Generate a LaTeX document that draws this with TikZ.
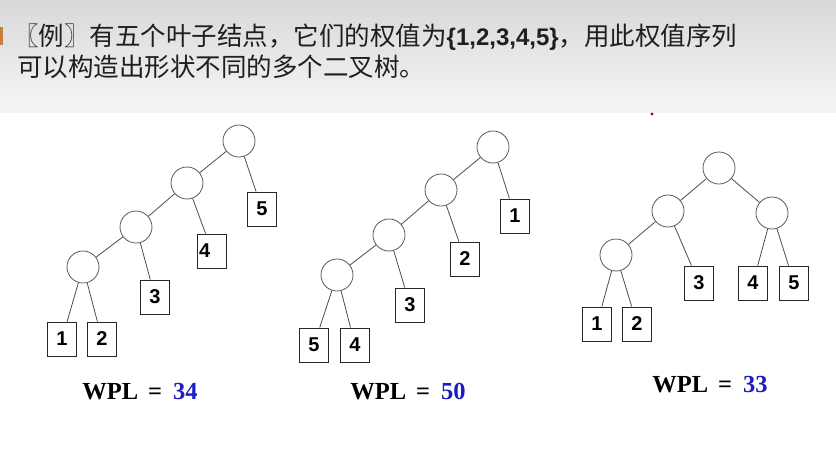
\documentclass[tikz,border=0pt]{standalone}
\usepackage{fontspec}
\setmainfont{Liberation Serif}
\newfontfamily\cjk{Noto Sans CJK SC}
\newfontfamily\digitfont{Liberation Sans}
\definecolor{wplblue}{RGB}{28,28,200}
\definecolor{barbrown}{RGB}{196,128,60}

\begin{document}
\begin{tikzpicture}[
    x=1pt, y=-1pt,
  inner/.style={circle, draw=black!65, line width=0.8pt, minimum size=32pt, inner sep=0pt},
    leaf/.style={rectangle, draw=black!85, line width=1pt, minimum width=29pt, minimum height=34pt, inner sep=0pt, font=\digitfont\bfseries\fontsize{20}{20}\selectfont},
    branch/.style={draw=black!70, line width=0.8pt},
    wpl/.style={font=\bfseries\fontsize{24.5}{24.5}\selectfont},
    headline/.style={anchor=base west, inner sep=0pt, text=black!88, font=\cjk\fontsize{25.5}{25.5}\selectfont}
]
\useasboundingbox (0,0) rectangle (836,467);

% background of the slide
\shade[top color=black!15, bottom color=black!4] (0,0) rectangle (836,112);
\fill[barbrown] (0,27) rectangle (3,45);
\fill[red!75!black] (652,114) circle (1.6);

% heading
\node[headline] (h1) at (13,45) {〖例〗有五个叶子结点，它们的权值为{\digitfont\bfseries\fontsize{24}{24}\selectfont\{1,2,3,4,5\}}，用此权值序列};
\node[headline] (h2) at (17,76) {可以构造出形状不同的多个二叉树。};

% first tree
\node[inner] (a0) at (239,141) {};
\node[inner] (a1) at (187,183) {};
\node[inner] (a2) at (136,227) {};
\node[inner] (a3) at (83,267) {};
\node[leaf] (a5) at (262,209) {5};
\node[leaf] (a4) at (212,251) {\makebox[26pt][l]{4}};
\node[leaf] (a3l) at (155,297) {3};
\node[leaf] (a1l) at (62,339) {1};
\node[leaf] (a2l) at (102,339) {2};

\draw[branch] (a0) -- (a1);
\draw[branch] (a0) -- (a5);
\draw[branch] (a1) -- (a2);
\draw[branch] (a1) -- (a4);
\draw[branch] (a2) -- (a3);
\draw[branch] (a2) -- (a3l);
\draw[branch] (a3) -- (a1l);
\draw[branch] (a3) -- (a2l);

\node[wpl] (wa) at (140,392) {WPL\hspace{0.4em}=\hspace{0.45em}{\color{wplblue}34}};

% second tree
\node[inner] (b0) at (493,147) {};
\node[inner] (b1) at (441,190) {};
\node[inner] (b2) at (389,235) {};
\node[inner] (b3) at (337,275) {};
\node[leaf] (b1l) at (515,216) {1};
\node[leaf] (b2l) at (465,259) {2};
\node[leaf] (b3l) at (410,305) {3};
\node[leaf] (b5l) at (314,345) {5};
\node[leaf] (b4l) at (355,345) {4};

\draw[branch] (b0) -- (b1);
\draw[branch] (b0) -- (b1l);
\draw[branch] (b1) -- (b2);
\draw[branch] (b1) -- (b2l);
\draw[branch] (b2) -- (b3);
\draw[branch] (b2) -- (b3l);
\draw[branch] (b3) -- (b5l);
\draw[branch] (b3) -- (b4l);

\node[wpl] (wb) at (408,392) {WPL\hspace{0.4em}=\hspace{0.45em}{\color{wplblue}50}};

% third tree
\node[inner] (c0) at (719,168) {};
\node[inner] (c1) at (668,211) {};
\node[inner] (c2) at (772,213) {};
\node[inner] (c3) at (616,255) {};
\node[leaf] (c3l) at (699,283) {3};
\node[leaf] (c4l) at (753,283) {4};
\node[leaf] (c5l) at (794,283) {5};
\node[leaf] (c1l) at (597,324) {1};
\node[leaf] (c2l) at (637,324) {2};

\draw[branch] (c0) -- (c1);
\draw[branch] (c0) -- (c2);
\draw[branch] (c1) -- (c3);
\draw[branch] (c1) -- (c3l);
\draw[branch] (c2) -- (c4l);
\draw[branch] (c2) -- (c5l);
\draw[branch] (c3) -- (c1l);
\draw[branch] (c3) -- (c2l);

\node[wpl] (wc) at (710,385) {WPL\hspace{0.4em}=\hspace{0.45em}{\color{wplblue}33}};

\end{tikzpicture}
\end{document}
